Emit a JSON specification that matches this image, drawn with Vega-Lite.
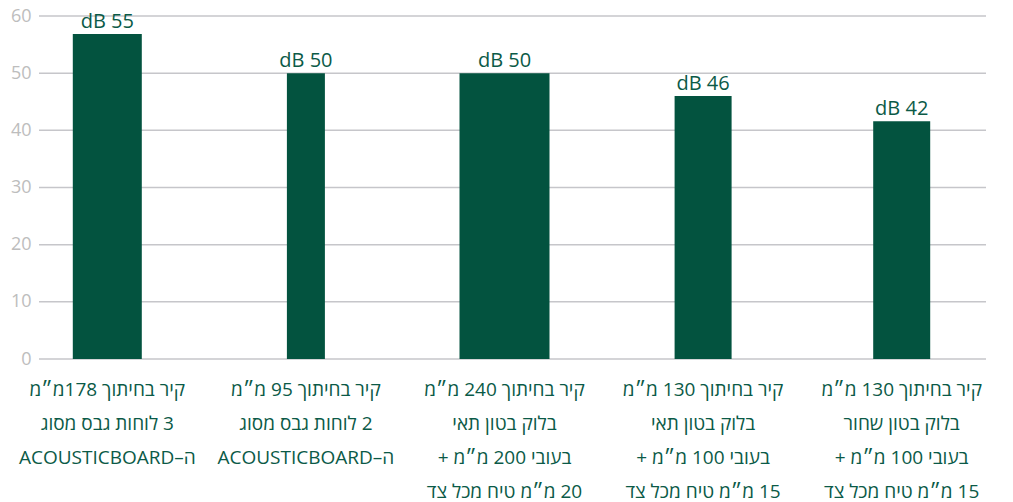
{
  "$schema": "https://vega.github.io/schema/vega-lite/v6.json",
  "width": 947,
  "height": 343,
  "autosize": {"type": "none"},
  "padding": {"left": 39, "top": 16, "right": 27, "bottom": 143},
  "config": {"view": {"stroke": null}, "font": "Open Sans, Liberation Sans, DejaVu Sans"},
  "datasets": {
    "walls": [
      {"id": 1, "wall": "\u202bקיר בחיתוך 178מ״מ\u202c|\u202b3 לוחות גבס מסוג\u202c|\u202bה–ACOUSTICBOARD\u202c", "value": 56.85, "label": "dB 55"},
      {"id": 2, "wall": "\u202bקיר בחיתוך 95 מ״מ\u202c|\u202b2 לוחות גבס מסוג\u202c|\u202bה–ACOUSTICBOARD\u202c", "value": 50.0, "label": "dB 50"},
      {"id": 3, "wall": "\u202bקיר בחיתוך 240 מ״מ\u202c|\u202bבלוק בטון תאי\u202c|\u202bבעובי 200 מ״מ +\u202c|\u202b20 מ״מ טיח מכל צד\u202c", "value": 50.0, "label": "dB 50"},
      {"id": 4, "wall": "\u202bקיר בחיתוך 130 מ״מ\u202c|\u202bבלוק בטון תאי\u202c|\u202bבעובי 100 מ״מ +\u202c|\u202b15 מ״מ טיח מכל צד\u202c", "value": 46.0, "label": "dB 46"},
      {"id": 5, "wall": "\u202bקיר בחיתוך 130 מ״מ\u202c|\u202bבלוק בטון שחור\u202c|\u202bבעובי 100 מ״מ +\u202c|\u202b15 מ״מ טיח מכל צד\u202c", "value": 41.6, "label": "dB 42"}
    ],
    "grid": [{"g": 0}, {"g": 10}, {"g": 20}, {"g": 30}, {"g": 40}, {"g": 50}, {"g": 60}]
  },
  "layer": [
    {
      "data": {"name": "grid"},
      "mark": {"type": "rule", "color": "#c6c6ca", "strokeWidth": 1.5},
      "encoding": {
        "y": {
          "field": "g",
          "type": "quantitative",
          "scale": {"domain": [0, 60], "nice": false},
          "axis": {
            "title": null,
            "values": [0, 10, 20, 30, 40, 50, 60],
            "domain": false,
            "ticks": false,
            "grid": false,
            "labelColor": "#bdbdbd",
            "labelFontSize": 18,
            "labelPadding": 8
          }
        }
      }
    },
    {
      "data": {"name": "walls"},
      "mark": {"type": "bar", "color": "#03533f"},
      "encoding": {
        "x": {
          "field": "wall",
          "type": "nominal",
          "sort": null,
          "scale": {"range": [-31, 962]},
          "axis": {
            "title": null,
            "domain": false,
            "ticks": false,
            "labelAngle": 0,
            "labelExpr": "split(datum.label, '|')",
            "labelFontSize": 19,
            "labelLineHeight": 34,
            "labelColor": "#0b5a47",
            "labelPadding": 21,
            "labelLimit": 400,
            "labelOverlap": false,
            "labelAlign": "center"
          }
        },
        "y": {
          "field": "value",
          "type": "quantitative",
          "axis": {
            "title": null,
            "values": [0, 10, 20, 30, 40, 50, 60],
            "domain": false,
            "ticks": false,
            "grid": false,
            "labelColor": "#bdbdbd",
            "labelFontSize": 18,
            "labelPadding": 8
          }
        },
        "size": {
          "condition": [
            {"test": "datum.id == 1", "value": 69},
            {"test": "datum.id == 2", "value": 38},
            {"test": "datum.id == 3", "value": 90}
          ],
          "value": 57
        }
      }
    },
    {
      "data": {"name": "walls"},
      "mark": {"type": "text", "baseline": "alphabetic", "dy": -6, "fontSize": 20, "color": "#0b5a47"},
      "encoding": {
        "x": {"field": "wall", "type": "nominal", "sort": null},
        "y": {"field": "value", "type": "quantitative"},
        "text": {"field": "label"}
      }
    }
  ]
}
